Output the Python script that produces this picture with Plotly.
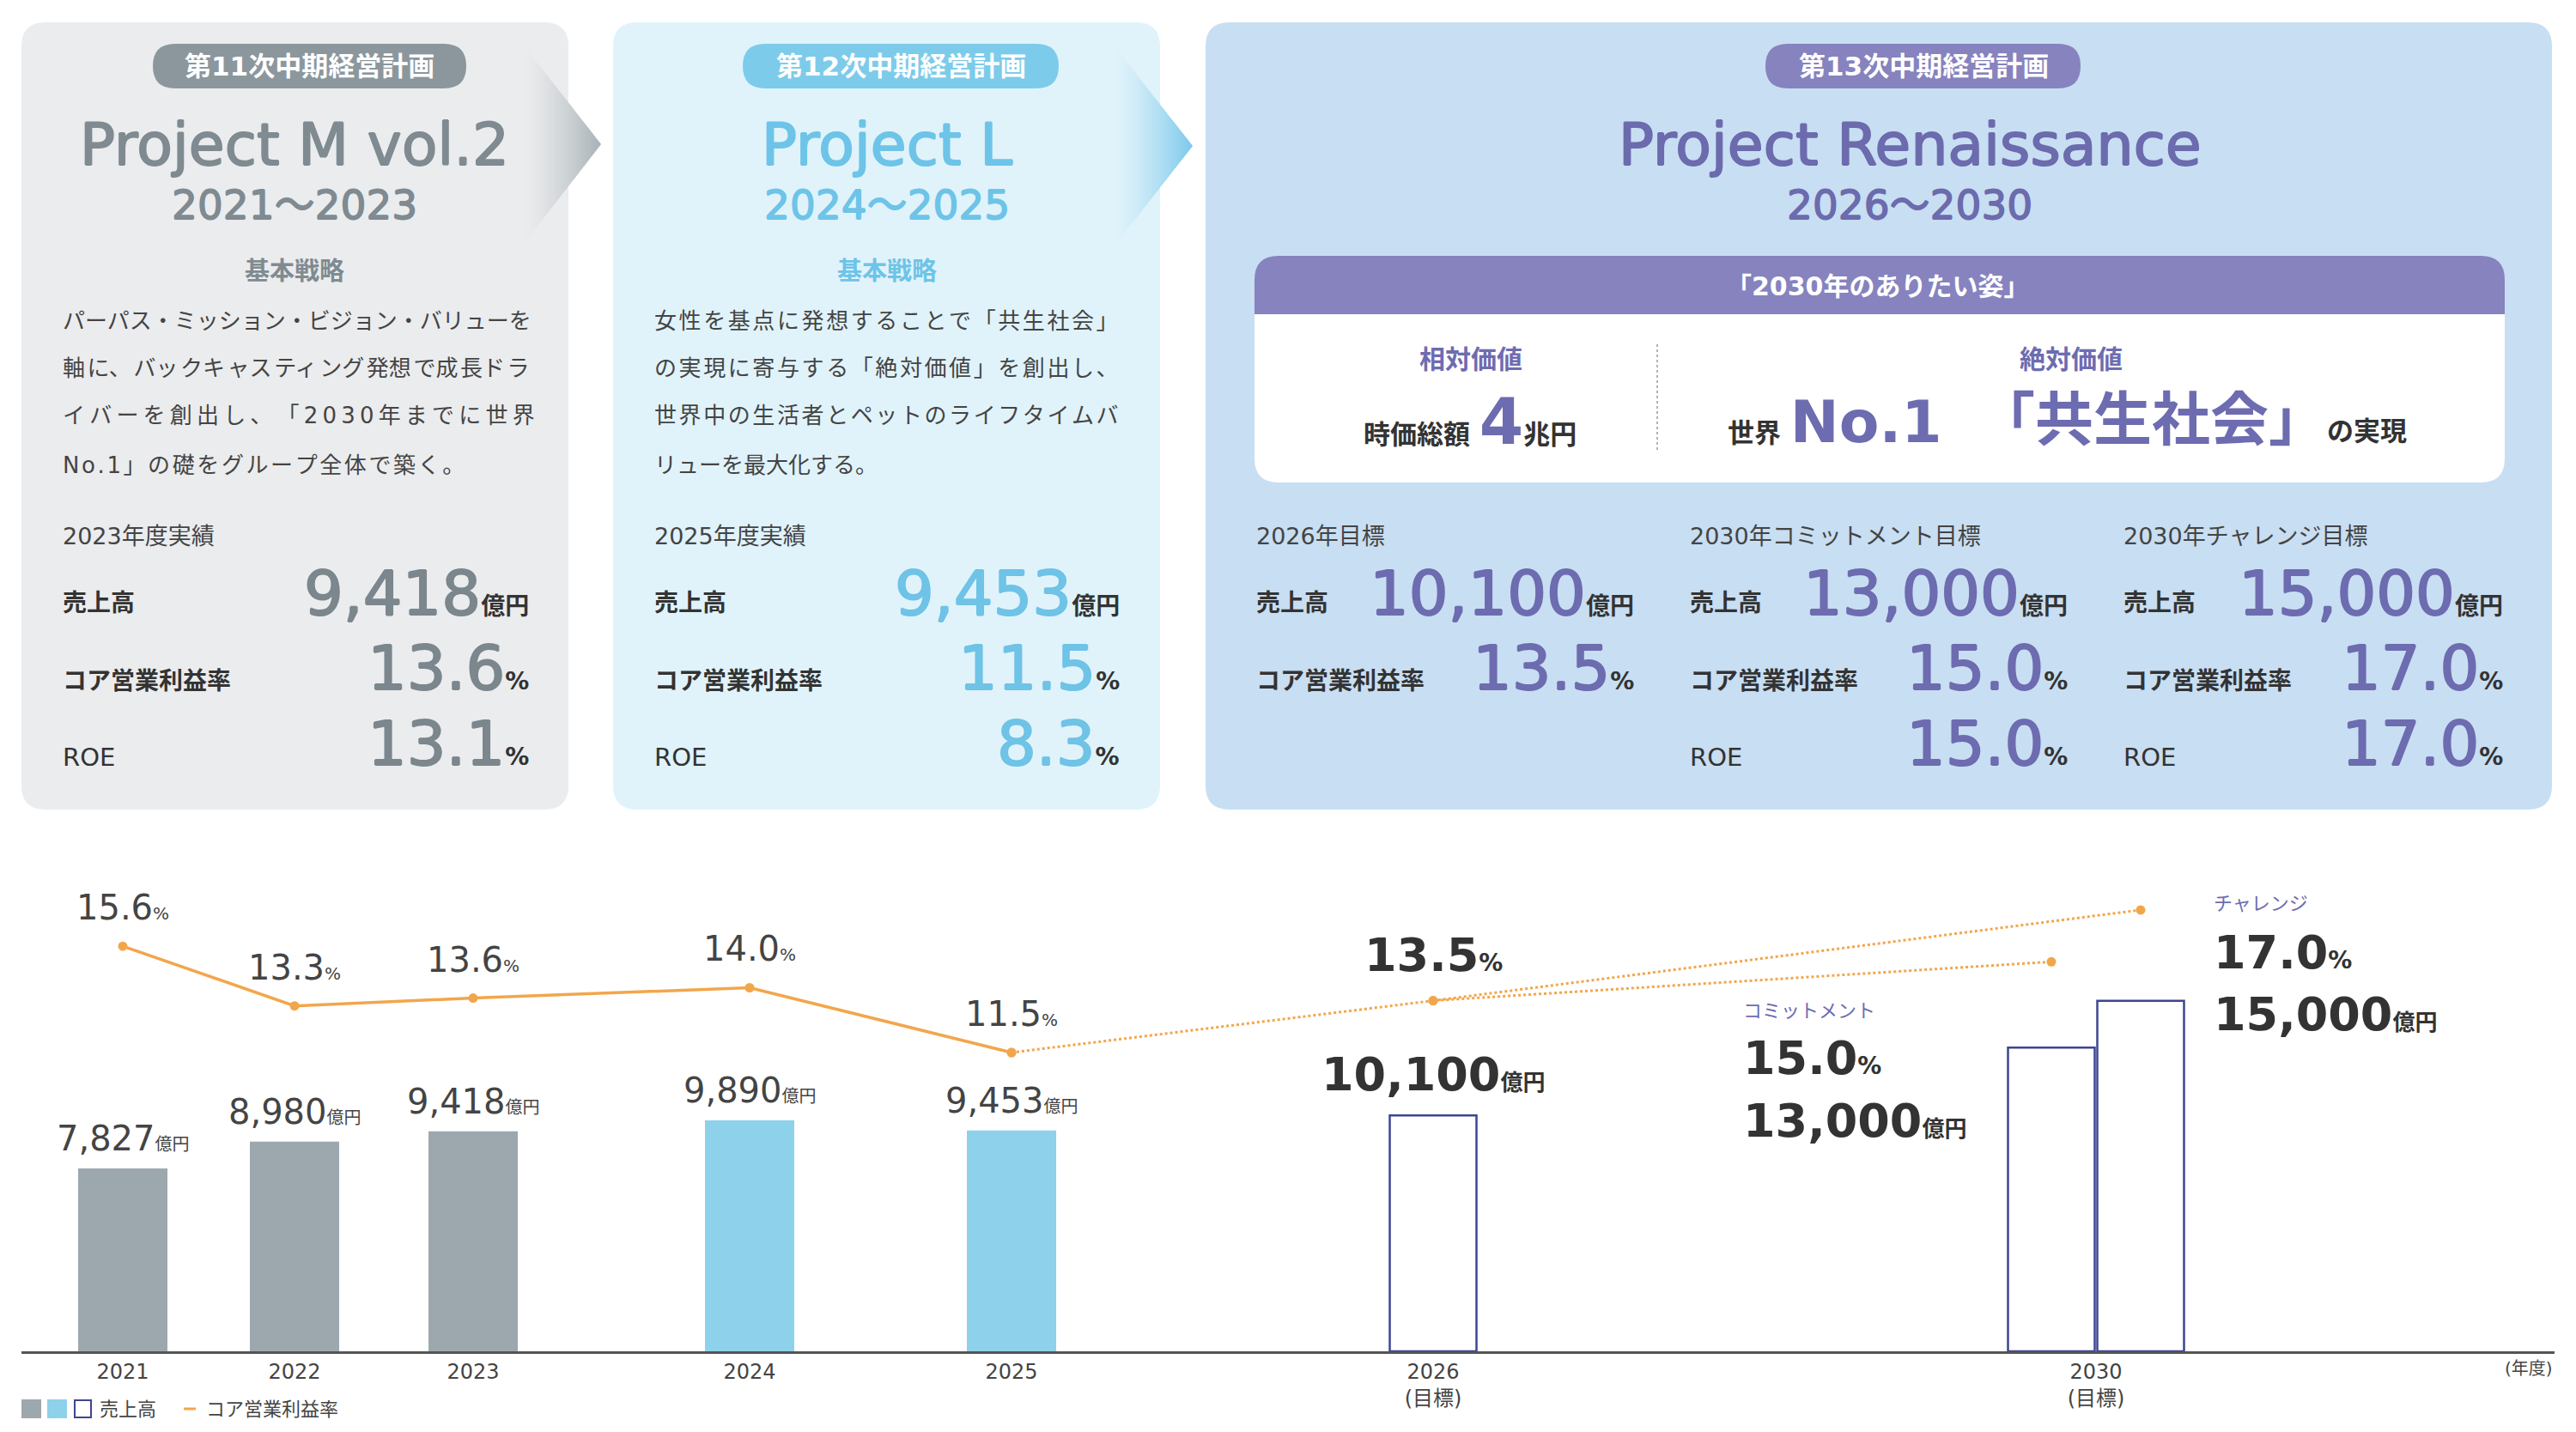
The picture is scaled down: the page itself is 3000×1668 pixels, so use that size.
import plotly.graph_objects as go

# the page body has an 8px margin, so the figure is drawn 8px in from the corner
OFF = 8
W, H = 3000 - 2 * OFF, 1668 - 2 * OFF

# ---------------- data ----------------
years = ["2021", "2022", "2023", "2024", "2025", "2026", "2030"]
year_notes = ["", "", "", "", "", "(目標)", "(目標)"]
sales = [7827, 8980, 9418, 9890, 9453]          # 売上高 実績 (億円)
sales_2026 = 10100                                # 2026年目標
sales_2030 = [13000, 15000]                       # コミットメント / チャレンジ
margin = [15.6, 13.3, 13.6, 14.0, 11.5]           # コア営業利益率 実績 (%)
margin_2026 = 13.5
margin_2030 = [15.0, 17.0]

plans = ["第11次中期経営計画", "第12次中期経営計画", "第13次中期経営計画"]
names = ["Project M vol.2", "Project L", "Project Renaissance"]
periods = ["2021～2023", "2024～2025", "2026～2030"]
strategy = [
    ["パーパス・ミッション・ビジョン・バリューを",
     "軸に、バックキャスティング発想で成長ドラ",
     "イバーを創出し、「2030年までに世界",
     "No.1」の礎をグループ全体で築く。"],
    ["女性を基点に発想することで「共生社会」",
     "の実現に寄与する「絶対価値」を創出し、",
     "世界中の生活者とペットのライフタイムバ",
     "リューを最大化する。"],
]
result_labels = ["2023年度実績", "2025年度実績"]
result_sales = [9418, 9453]
result_margin = [13.6, 11.5]
result_roe = [13.1, 8.3]
target_labels = ["2026年目標", "2030年コミットメント目標", "2030年チャレンジ目標"]
target_sales = [10100, 13000, 15000]
target_margin = [13.5, 15.0, 17.0]
target_roe = [None, 15.0, 17.0]

# ---------------- style ----------------
FONT = "DejaVu Sans, Noto Sans CJK JP"
TXT = "#444444"
DARK = "#333333"
BG = ["#EBECEE", "#E0F3FA", "#C8DEF2"]
BADGE = ["#8B979D", "#7DCBEA", "#8683BF"]
TITLE = ["#7F8B91", "#6DC4E8", "#6C6BAE"]
VALUE = ["#7B878D", "#6EC3E6", "#6D6CB0"]
PURPLE = "#6D6CB0"
BAR_GRAY = "#9DA8AE"
BAR_BLUE = "#8ED1EA"
NAVY = "#3E4593"
ORANGE = "#F2A64B"

# justification spacers for the strategy text lines: (spacer, every n-th gap)
HAIR, THIN = "\u200a", "\u2009"
line_gap = [[("", 1), (HAIR, 2), (THIN, 1), (HAIR, 1)],
            [(HAIR, 1), (HAIR, 1), (HAIR, 1), ("", 1)]]

# bar positions along the x axis (axis is in screen-pixel units)
bar_x = [143, 343, 551, 873, 1178]
x26 = 1669
x30 = [2389, 2493]
tick_x = bar_x + [x26, 2441]


def fx(x):
    return (x - OFF) / W


def fy(y):
    return 1 - (y - OFF) / H


def pp(x, y):
    return f"{fx(x):.5f},{fy(y):.5f}"


def rr(x0, y0, x1, y1, r, top=True, bot=True):
    rt = r if top else 0
    rb = r if bot else 0
    return (f"M {pp(x0 + rt, y0)} L {pp(x1 - rt, y0)} Q {pp(x1, y0)} {pp(x1, y0 + rt)} "
            f"L {pp(x1, y1 - rb)} Q {pp(x1, y1)} {pp(x1 - rb, y1)} "
            f"L {pp(x0 + rb, y1)} Q {pp(x0, y1)} {pp(x0, y1 - rb)} "
            f"L {pp(x0, y0 + rt)} Q {pp(x0, y0)} {pp(x0 + rt, y0)} Z")


def spaced(s, sp, every):
    out = ""
    for i, ch in enumerate(s):
        out += ch
        if sp and i < len(s) - 1 and i % every == 0:
            out += sp
    return out


shapes = []


def add_path(path, fill, line=None, lw=0):
    shapes.append(dict(type="path", path=path, xref="paper", yref="paper",
                       fillcolor=fill, line=dict(color=line or fill, width=lw),
                       layer="below"))


def add_rect(x0, y0, x1, y1, fill, line=None, lw=0):
    shapes.append(dict(type="rect", xref="paper", yref="paper", x0=fx(x0), x1=fx(x1),
                       y0=fy(y1), y1=fy(y0), fillcolor=fill,
                       line=dict(color=line or fill, width=lw)))


def hex2rgb(c):
    c = c.lstrip("#")
    return [int(c[i:i + 2], 16) for i in (0, 2, 4)]


def arrow(xl, xt, ytop, ybot, ytip, c0, c1, n=40):
    a, b = hex2rgb(c0), hex2rgb(c1)
    for i in range(n):
        xa = xl + (xt - xl) * i / n
        xb = xl + (xt - xl) * (i + 1) / n
        xe = min(xb + 0.8, xt)
        f = lambda x, y0: y0 + (ytip - y0) * (x - xl) / (xt - xl)
        t = ((i + 0.5) / n) ** 1.3
        col = "rgb(%d,%d,%d)" % tuple(round(a[k] + (b[k] - a[k]) * t) for k in range(3))
        path = (f"M {pp(xa, f(xa, ytop))} L {pp(xe, f(xe, ytop))} "
                f"L {pp(xe, f(xe, ybot))} L {pp(xa, f(xa, ybot))} Z")
        add_path(path, col)


# panels
panel_box = [(25, 26, 662, 943), (714, 26, 1351, 943), (1404, 26, 2972, 943)]
for k, (x0, y0, x1, y1) in enumerate(panel_box):
    add_path(rr(x0, y0, x1, y1, 28), BG[k])
badge_box = [(178, 51, 543, 103), (865, 51, 1233, 103), (2056, 51, 2423, 103)]
for k, (x0, y0, x1, y1) in enumerate(badge_box):
    add_path(rr(x0, y0, x1, y1, 26), BADGE[k])
arrow(613, 700, 57, 280, 168, "#EAEBED", "#A9B2B7")
arrow(1301, 1389, 58, 282, 170, "#DFF2FA", "#7CC9EB")

# card in panel 3
add_path(rr(1461, 298, 2917, 366, 28, bot=False), "#8683BF")
add_path(rr(1461, 366, 2917, 562, 28, top=False), "white")
shapes.append(dict(type="line", xref="paper", yref="paper", x0=fx(1930), x1=fx(1930),
                   y0=fy(401), y1=fy(527), line=dict(color="#9A9A9A", width=1.5, dash="dot")))

# legend marks
add_rect(25, 1630, 48, 1652, BAR_GRAY)
add_rect(55, 1630, 78, 1652, BAR_BLUE)
add_rect(87, 1631, 106, 1651, "white", NAVY, 2)
shapes.append(dict(type="line", xref="paper", yref="paper", x0=fx(214), x1=fx(228),
                   y0=fy(1641), y1=fy(1641), line=dict(color=ORANGE, width=3)))

annotations = []


def heavy(c, w):
    return f"{w}px 0 0 {c}, -{w}px 0 0 {c}, 0 {w}px 0 {c}, 0 -{w}px 0 {c}"


def ann(text, x, y, size, color, xanchor="center", yanchor="middle", bold=False,
        xref="paper", yref="paper", yshift=0, shadow="none"):
    if xref == "paper":
        x = fx(x)
    if yref == "paper":
        y = fy(y)
    annotations.append(dict(text=text, x=x, y=y, xref=xref, yref=yref, xanchor=xanchor,
                            yanchor=yanchor, showarrow=False, yshift=yshift,
                            font=dict(family=FONT, size=size, color=color, shadow=shadow,
                                      weight="bold" if bold else "normal")))


def unit(u, size, color=DARK, bold=True):
    w = "bold" if bold else "normal"
    return (f"<span style='font-size:{size}px;font-weight:{w};color:{color};"
            f"text-shadow:none'>{u}</span>")


def span(v, size, color, bold=False):
    w = "bold" if bold else "normal"
    return f"<span style='font-size:{size}px;font-weight:{w};color:{color}'>{v}</span>"


def value(text, u, x, y, color):
    ann(text + unit(u, 28), x, y, 72, color, xanchor="right", shadow=heavy(color, 1))


# --- panels 1 & 2 ---
centers = [343, 1033]
badge_cx = [360, 1049]
lefts = [71, 760]
rights = [618, 1306]
line_y = [374, 429, 484, 542]
for k in range(2):
    ann(plans[k], badge_cx[k], 77, 31, "white", bold=True)
    ann(names[k], centers[k], 169, 68, TITLE[k], shadow=heavy(TITLE[k], 0.9))
    ann(periods[k], centers[k], 238, 47, TITLE[k], shadow=heavy(TITLE[k], 0.7))
    ann("基本戦略", centers[k], 316, 29, TITLE[k], bold=True)
    for i, line in enumerate(strategy[k]):
        sp, every = line_gap[k][i]
        ann(spaced(line, sp, every), lefts[k], line_y[i], 26, TXT, xanchor="left")
    ann(result_labels[k], lefts[k], 625, 27, TXT, xanchor="left")
    ann("売上高", lefts[k], 702, 28, DARK, xanchor="left", bold=True)
    value(f"{result_sales[k]:,}", "億円", rights[k], 691, VALUE[k])
    ann("コア営業利益率", lefts[k], 793, 28, DARK, xanchor="left", bold=True)
    value(f"{result_margin[k]:.1f}", "%", rights[k], 778, VALUE[k])
    ann("ROE", lefts[k], 882, 29, DARK, xanchor="left")
    value(f"{result_roe[k]:.1f}", "%", rights[k], 866, VALUE[k])

# --- panel 3 ---
ann(plans[2], 2240, 77, 31, "white", bold=True)
ann(names[2], 2224, 169, 68, TITLE[2], shadow=heavy(TITLE[2], 0.9))
ann(periods[2], 2224, 238, 47, TITLE[2], shadow=heavy(TITLE[2], 0.7))
ann("「2030年のありたい姿」", 2187, 333, 30, "white", bold=True)
ann("相対価値", 1713, 418, 30, PURPLE, bold=True)
ann("絶対価値", 2412, 418, 30, PURPLE, bold=True)
ann("時価総額 " + span("4", 74, PURPLE, bold=True) + "兆円", 1712, 491, 31, DARK, bold=True)
ann("世界 " + span("No.1", 68, PURPLE, bold=True), 2264, 491, 31, DARK, bold=True, xanchor="right")
ann(span("「共生社会」", 68, PURPLE, bold=True) + "の実現", 2805, 489, 31, DARK, bold=True,
    xanchor="right")
col_l = [1461, 1966, 2471]
col_r = [1905, 2410, 2917]
for j in range(3):
    ann(target_labels[j], col_l[j], 625, 27, TXT, xanchor="left")
    ann("売上高", col_l[j], 702, 28, DARK, xanchor="left", bold=True)
    value(f"{target_sales[j]:,}", "億円", col_r[j], 691, VALUE[2])
    ann("コア営業利益率", col_l[j], 793, 28, DARK, xanchor="left", bold=True)
    value(f"{target_margin[j]:.1f}", "%", col_r[j], 778, VALUE[2])
    if target_roe[j] is not None:
        ann("ROE", col_l[j], 882, 29, DARK, xanchor="left")
        value(f"{target_roe[j]:.1f}", "%", col_r[j], 866, VALUE[2])

# --- chart labels ---
for i in range(5):
    ann(f"{margin[i]:.1f}" + unit("%", 20, TXT, bold=False), bar_x[i], margin[i], 40, TXT,
        xref="x", yref="y2", yanchor="bottom", yshift=20)
    ann(f"{sales[i]:,}" + unit("億円", 20, TXT, bold=False), bar_x[i], sales[i], 40, TXT,
        xref="x", yref="y", yanchor="bottom", yshift=10)
ann(f"{margin_2026:.1f}" + unit("%", 28), x26, margin_2026, 54, DARK, bold=True,
    xref="x", yref="y2", yanchor="bottom", yshift=20)
ann(f"{sales_2026:,}" + unit("億円", 26), x26, sales_2026, 54, DARK, bold=True,
    xref="x", yref="y", yanchor="bottom", yshift=14)

ann("コミットメント", 2028, 1177, 22, PURPLE, xanchor="left")
ann(f"{margin_2030[0]:.1f}" + unit("%", 28), 2028, 1232, 54, DARK, xanchor="left", bold=True)
ann(f"{sales_2030[0]:,}" + unit("億円", 26), 2028, 1305, 54, DARK, xanchor="left", bold=True)
ann("チャレンジ", 2576, 1052, 22, PURPLE, xanchor="left")
ann(f"{margin_2030[1]:.1f}" + unit("%", 28), 2576, 1109, 54, DARK, xanchor="left", bold=True)
ann(f"{sales_2030[1]:,}" + unit("億円", 26), 2576, 1181, 54, DARK, xanchor="left", bold=True)

ann("(年度)", 2975, 1594, 20, TXT, xanchor="right")
ann("売上高", 114, 1641, 22, TXT, xanchor="left")
ann("コア営業利益率", 238, 1641, 22, TXT, xanchor="left")

# ---------------- traces ----------------
fig = go.Figure()
fig.add_trace(go.Bar(x=bar_x[:3], y=sales[:3], width=104, marker=dict(color=BAR_GRAY, line=dict(width=0))))
fig.add_trace(go.Bar(x=bar_x[3:5], y=sales[3:5], width=104, marker=dict(color=BAR_BLUE, line=dict(width=0))))
fig.add_trace(go.Bar(x=[x26] + x30, y=[sales_2026] + sales_2030, width=101,
                     marker=dict(color="white", line=dict(color=NAVY, width=2.5))))

fig.add_trace(go.Scatter(x=bar_x, y=margin, yaxis="y2", mode="lines+markers",
                         line=dict(color=ORANGE, width=3.5), marker=dict(color=ORANGE, size=11)))
fig.add_trace(go.Scatter(x=[bar_x[4], x26, x30[0]], y=[margin[4], margin_2026, margin_2030[0]], yaxis="y2",
                         mode="lines+markers", line=dict(color=ORANGE, width=3, dash="dot"),
                         marker=dict(color=ORANGE, size=11)))
fig.add_trace(go.Scatter(x=[x26, x30[1]], y=[margin_2026, margin_2030[1]], yaxis="y2",
                         mode="lines+markers", line=dict(color=ORANGE, width=3, dash="dot"),
                         marker=dict(color=ORANGE, size=11)))

ticktext = [y if not n else f"{y}<br>{n}" for y, n in zip(years, year_notes)]

fig.update_layout(
    width=W, height=H,
    margin=dict(l=0, r=0, t=0, b=0),
    paper_bgcolor="white", plot_bgcolor="rgba(0,0,0,0)",
    showlegend=False, barmode="overlay",
    xaxis=dict(domain=[fx(25), fx(2975)], range=[25, 2975], tickvals=tick_x, ticktext=ticktext,
               tickfont=dict(family=FONT, size=24, color=TXT), showline=True, linecolor="#555555",
               linewidth=2.5, showgrid=False, zeroline=False, ticks=""),
    yaxis=dict(domain=[fy(1574), fy(1000)], range=[0, 21095], visible=False),
    yaxis2=dict(domain=[fy(1574), fy(1000)], range=[-0.023, 18.983], overlaying="y", visible=False),
    shapes=shapes,
    annotations=annotations,
)

fig.write_html("out.html")
